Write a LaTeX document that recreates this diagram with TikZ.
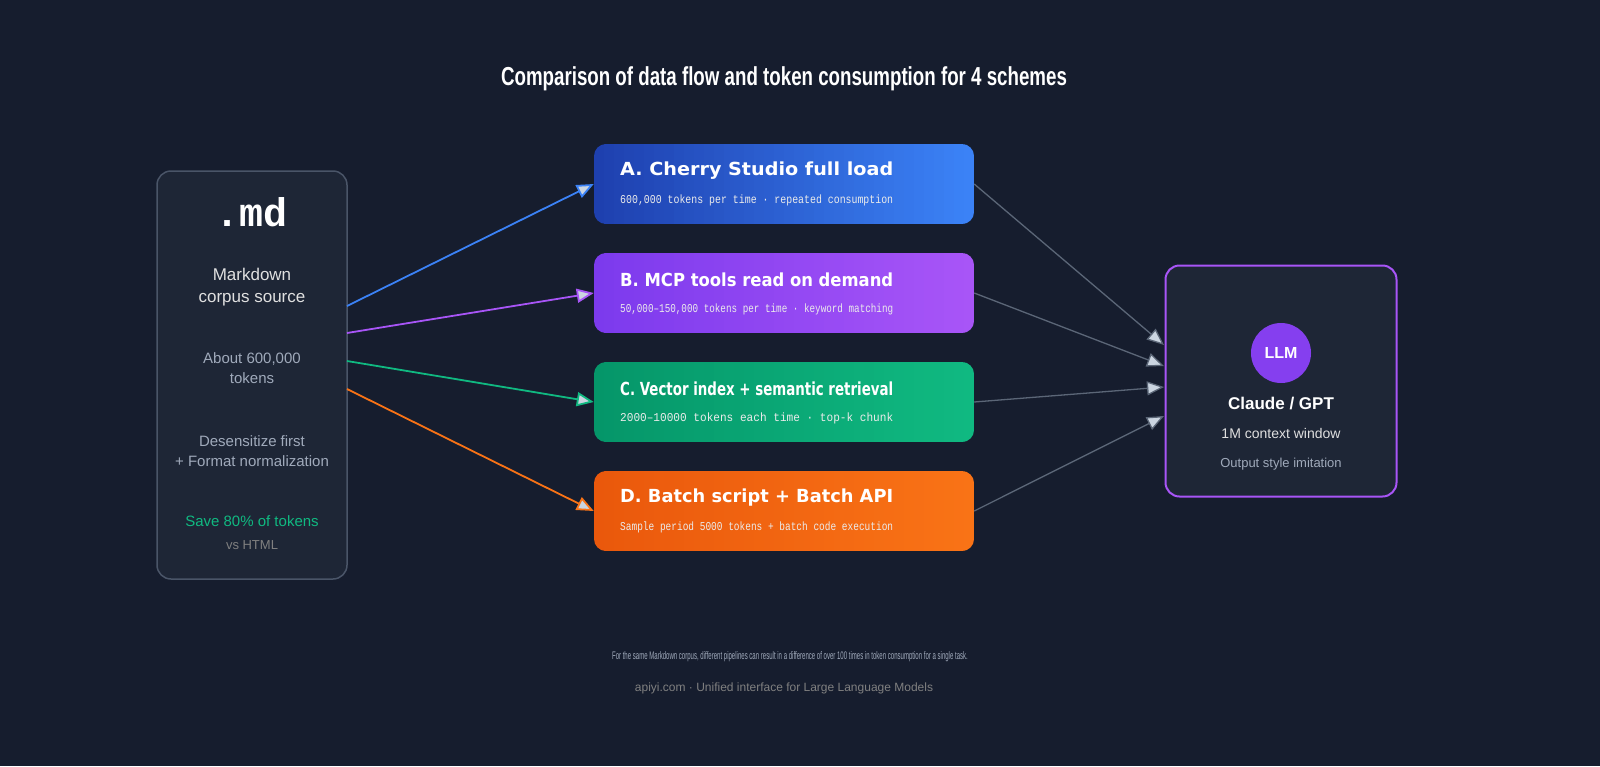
\documentclass[tikz,border=0pt]{standalone}
\usepackage{fontspec}
\setmainfont{Liberation Sans}
\setmonofont{Liberation Mono}
\newfontfamily\headfont{DejaVu Sans}
\usepackage{graphicx}
\usetikzlibrary{arrows.meta}
\definecolor{bgc}{HTML}{161D2E}
\definecolor{panel}{HTML}{1E2636}
\definecolor{panelline}{HTML}{4A5568}
\definecolor{lineg}{HTML}{5B6677}
\definecolor{tipg}{HTML}{CBD5E1}
\definecolor{txtg}{HTML}{A0AABB}
\definecolor{blueA}{HTML}{1E40AF}\definecolor{blueB}{HTML}{3B82F6}
\definecolor{purA}{HTML}{7C3AED}\definecolor{purB}{HTML}{A855F7}
\definecolor{grnA}{HTML}{059669}\definecolor{grnB}{HTML}{10B981}
\definecolor{orgA}{HTML}{EA580C}\definecolor{orgB}{HTML}{F97316}
\newcommand{\fs}[1]{\fontsize{#1}{#1}\selectfont}
\newcommand{\fitw}[1]{\resizebox{273pt}{\height}{#1}}
\begin{document}
\begin{tikzpicture}[x=1pt,y=-1pt,
		scheme_style/.style={minimum width=380pt,minimum height=80pt,inner sep=0pt},
		head_style/.style={anchor=west,text=white,font=\headfont\bfseries\fs{18},inner sep=0pt},
		sub_style/.style={anchor=west,text=white!92!black,font=\ttfamily\fs{12},inner sep=0pt},
		flow_style/.style={line width=1.8pt,-{Triangle[length=17pt,width=14pt,fill=tipg]}},
		feed_style/.style={line width=1.3pt,draw=lineg,-{Triangle[length=17pt,width=14pt,fill=tipg]}}]

		% background
		\fill[bgc] (0,0) rectangle (1600,766);
		\useasboundingbox (0,0) rectangle (1600,766);
		\node[text=white,font=\bfseries\fs{26}] (title) at (784,79) {\scalebox{0.72}[1]{Comparison of data flow and token consumption for 4 schemes}};

		% source panel
		\node[draw=panelline,line width=1.5pt,fill=panel,rounded corners=14pt,minimum width=190pt,minimum height=408pt] (src) at (252,375) {};
		\node[text=white,font=\ttfamily\bfseries\fs{40}] (md) at (252,212) {.md};
		\node[text=white!88!black,font=\fs{17},align=center] (corpus) at (252,287) {Markdown\\[5pt]corpus source};
		\node[text=txtg,font=\fs{15},align=center] (about) at (252,368) {About 600,000\\[5pt]tokens};
		\node[text=txtg,font=\fs{15},align=center] (desens) at (252,451) {Desensitize first\\[5pt]+ Format normalization};
		\node[text=grnB,font=\fs{15}] (save) at (252,521) {Save 80\% of tokens};
		\node[text=gray,font=\fs{13}] (vs) at (252,545) {vs HTML};

		\coordinate (s1) at (347,306);
		\coordinate (s2) at (347,333);
		\coordinate (s3) at (347,361);
		\coordinate (s4) at (347,389);

		% schemes (gradient in strips)
		\foreach \yy/\ca/\cb in {144/blueA/blueB,253/purA/purB,362/grnA/grnB,471/orgA/orgB}{
			\begin{scope}
				\clip[rounded corners=12pt] (594,\yy) rectangle (974,\yy+80);
				\foreach \k in {0,...,37}{
					\pgfmathtruncatemacro\pc{100-\k*100/37}
					\fill[\ca!\pc!\cb] (594+\k*10,\yy) rectangle (594+\k*10+10.6,\yy+80);
				}
			\end{scope}
		}
		\node[scheme_style] (sa) at (784,184) {};
		\node[scheme_style] (sb) at (784,293) {};
		\node[scheme_style] (sc) at (784,402) {};
		\node[scheme_style] (sd) at (784,511) {};
		\node[head_style] at (620,171) {\fitw{A. Cherry Studio full load}};
		\node[sub_style] at (620,200) {\fitw{600,000 tokens per time · repeated consumption}};
		\node[head_style] at (620,280) {\fitw{B. MCP tools read on demand}};
		\node[sub_style] at (620,309) {\fitw{50,000–150,000 tokens per time · keyword matching}};
		\node[head_style] at (620,389) {\fitw{C. Vector index + semantic retrieval}};
		\node[sub_style] at (620,418) {\fitw{2000–10000 tokens each time · top-k chunk}};
		\node[head_style] at (620,498) {\fitw{D. Batch script + Batch API}};
		\node[sub_style] at (620,527) {\fitw{Sample period 5000 tokens + batch code execution}};

		% model panel
		\node[draw=purB,line width=2pt,fill=panel,rounded corners=14pt,minimum width=231pt,minimum height=231pt] (llmbox) at (1281,381) {};
		\node[circle,fill=purA!80!purB,minimum size=60pt,text=white,font=\bfseries\fs{16}] (llm) at (1281,353) {LLM};
		\node[text=white,font=\bfseries\fs{17}] (claude) at (1281,404) {Claude / GPT};
		\node[text=white!88!black,font=\fs{14}] (ctx) at (1281,433) {1M context window};
		\node[text=txtg,font=\fs{13}] (imit) at (1281,464) {Output style imitation};

		\coordinate (t1) at (1164,345);
		\coordinate (t2) at (1164,366);
		\coordinate (t3) at (1164,387);
		\coordinate (t4) at (1164,416);

		\draw[flow_style,draw=blueB] (s1) -- (sa.west);
		\draw[flow_style,draw=purB] (s2) -- (sb.west);
		\draw[flow_style,draw=grnB] (s3) -- (sc.west);
		\draw[flow_style,draw=orgB] (s4) -- (sd.west);

		\draw[feed_style] (sa.east) -- (t1);
		\draw[feed_style] (sb.east) -- (t2);
		\draw[feed_style] (sc.east) -- (t3);
		\draw[feed_style] (sd.east) -- (t4);

		% footer
		\node[text=txtg,font=\fs{11}] (note) at (790,657) {\scalebox{0.55}[1]{For the same Markdown corpus, different pipelines can result in a difference of over 100 times in token consumption for a single task.}};
		\node[text=gray,font=\fs{12}] (brand) at (784,688) {apiyi.com · Unified interface for Large Language Models};
\end{tikzpicture}
\end{document}
